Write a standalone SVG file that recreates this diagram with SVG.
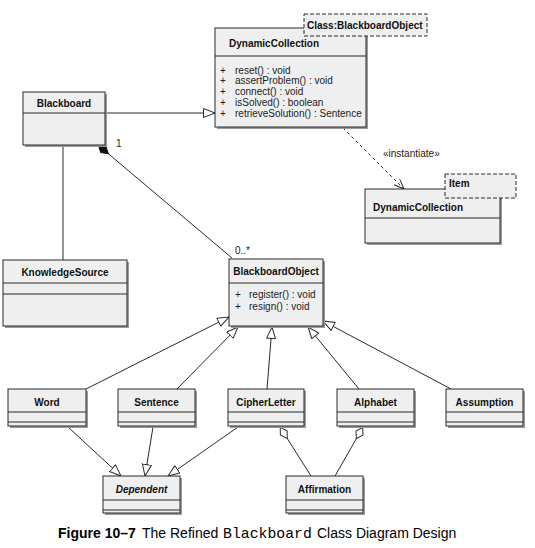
<svg xmlns="http://www.w3.org/2000/svg" width="535" height="548" viewBox="0 0 535 548">
<style>
.box{fill:#efefef;stroke:#2a2a2a;stroke-width:1}
.sh{fill:#9a9a9a;stroke:none}
.tpl{fill:#efefef;stroke:#2a2a2a;stroke-width:1;stroke-dasharray:4,2}
.dv{stroke:#2a2a2a;stroke-width:1}
.t{font-family:"Liberation Sans",Arial,sans-serif;font-size:10px;font-weight:bold;fill:#111}
.op{font-family:"Liberation Sans",Arial,sans-serif;font-size:10px;fill:#222}
.c{stroke:#2a2a2a;stroke-width:1;fill:none}
.cap{font-family:"Liberation Sans",Arial,sans-serif;font-size:14px;fill:#000}
</style>
<defs>
<marker id="gen" markerUnits="userSpaceOnUse" markerWidth="14" markerHeight="12" refX="12" refY="5" orient="auto"><path d="M0.5,0.5 L12,5 L0.5,9.5 z" fill="#fff" stroke="#2a2a2a"/></marker>
<marker id="open" markerUnits="userSpaceOnUse" markerWidth="12" markerHeight="10" refX="10" refY="4" orient="auto"><path d="M0,0 L10,4 L0,8" fill="none" stroke="#2a2a2a"/></marker>
<marker id="dia" markerUnits="userSpaceOnUse" markerWidth="16" markerHeight="10" refX="0" refY="5" orient="auto"><path d="M0.5,5 L7,1 L13.5,5 L7,9 z" fill="#fff" stroke="#2a2a2a"/></marker>
<marker id="dia-f" markerUnits="userSpaceOnUse" markerWidth="16" markerHeight="10" refX="0" refY="5" orient="auto"><path d="M0.5,5 L7,1 L13.5,5 L7,9 z" fill="#111" stroke="#111"/></marker>
</defs>

<g id="connectors">
<line class="c" x1="105" y1="113" x2="215" y2="113" marker-end="url(#gen)"/>
<line class="c" x1="63" y1="145" x2="63" y2="260"/>
<line class="c" x1="98" y1="145" x2="232" y2="258" marker-start="url(#dia-f)"/>
<line class="c" x1="343" y1="128" x2="404" y2="189" stroke-dasharray="3,3" marker-end="url(#open)"/>
<line class="c" x1="86" y1="389" x2="229" y2="317" marker-end="url(#gen)"/>
<line class="c" x1="177" y1="389" x2="238" y2="327" marker-end="url(#gen)"/>
<line class="c" x1="267" y1="389" x2="272" y2="327" marker-end="url(#gen)"/>
<line class="c" x1="359" y1="389" x2="308" y2="327" marker-end="url(#gen)"/>
<line class="c" x1="451" y1="389" x2="323" y2="321" marker-end="url(#gen)"/>
<line class="c" x1="68" y1="427" x2="121" y2="476" marker-end="url(#gen)"/>
<line class="c" x1="153" y1="427" x2="145" y2="476" marker-end="url(#gen)"/>
<line class="c" x1="238" y1="427" x2="168" y2="476" marker-end="url(#gen)"/>
<line class="c" x1="280" y1="427" x2="311" y2="476" marker-start="url(#dia)"/>
<line class="c" x1="363" y1="427" x2="335" y2="476" marker-start="url(#dia)"/>
<text class="op" x="116" y="147">1</text>
<text class="op" x="235" y="254">0..*</text>
<text class="op" x="383" y="157">«instantiate»</text>
</g>

<g id="dc1">
<rect class="sh" x="217" y="30" width="151" height="99"/>
<rect class="box" x="215" y="28" width="151" height="99"/>
<line class="dv" x1="215" y1="56" x2="366" y2="56"/>
<text class="t" x="229" y="47">DynamicCollection</text>
<text class="op" x="220" y="73.5">+</text><text class="op" x="235" y="73.5">reset() : void</text>
<text class="op" x="220" y="84.3">+</text><text class="op" x="235" y="84.3">assertProblem() : void</text>
<text class="op" x="220" y="95.1">+</text><text class="op" x="235" y="95.1">connect() : void</text>
<text class="op" x="220" y="105.9">+</text><text class="op" x="235" y="105.9">isSolved() : boolean</text>
<text class="op" x="220" y="116.7">+</text><text class="op" x="235" y="116.7">retrieveSolution() : Sentence</text>
<rect class="tpl" x="304" y="14" width="123" height="22"/>
<text class="t" x="307" y="29">Class:BlackboardObject</text>
</g>

<g id="blackboard">
<rect class="sh" x="25" y="94" width="82" height="53"/>
<rect class="box" x="23" y="92" width="82" height="53"/>
<line class="dv" x1="23" y1="113" x2="105" y2="113"/>
<text class="t" x="64" y="107" text-anchor="middle">Blackboard</text>
</g>

<g id="dc2">
<rect class="sh" x="367" y="191" width="135" height="54"/>
<rect class="box" x="365" y="189" width="135" height="54"/>
<line class="dv" x1="365" y1="218" x2="500" y2="218"/>
<text class="t" x="373" y="211">DynamicCollection</text>
<rect class="tpl" x="445" y="174" width="71" height="24"/>
<text class="t" x="449" y="187">Item</text>
</g>

<g id="knowledgesource">
<rect class="sh" x="5" y="262" width="124" height="66"/>
<rect class="box" x="3" y="260" width="124" height="66"/>
<line class="dv" x1="3" y1="283" x2="127" y2="283"/>
<line class="dv" x1="3" y1="294" x2="127" y2="294"/>
<text class="t" x="65" y="276" text-anchor="middle">KnowledgeSource</text>
</g>

<g id="blackboardobject">
<rect class="sh" x="231" y="261" width="94" height="67"/>
<rect class="box" x="229" y="259" width="94" height="67"/>
<line class="dv" x1="229" y1="283" x2="323" y2="283"/>
<text class="t" x="276" y="275" text-anchor="middle">BlackboardObject</text>
<text class="op" x="235" y="298">+</text><text class="op" x="249" y="298">register() : void</text>
<text class="op" x="235" y="310">+</text><text class="op" x="249" y="310">resign() : void</text>
</g>

<g id="word">
<rect class="sh" x="10" y="391" width="78" height="37"/>
<rect class="box" x="8" y="389" width="78" height="37"/>
<line class="dv" x1="8" y1="412" x2="86" y2="412"/>
<line class="dv" x1="8" y1="422" x2="86" y2="422"/>
<text class="t" x="47" y="406" text-anchor="middle">Word</text>
</g>

<g id="sentence">
<rect class="sh" x="120" y="391" width="77" height="37"/>
<rect class="box" x="118" y="389" width="77" height="37"/>
<line class="dv" x1="118" y1="412" x2="195" y2="412"/>
<line class="dv" x1="118" y1="422" x2="195" y2="422"/>
<text class="t" x="156.5" y="406" text-anchor="middle">Sentence</text>
</g>

<g id="cipherletter">
<rect class="sh" x="230" y="391" width="76" height="37"/>
<rect class="box" x="228" y="389" width="76" height="37"/>
<line class="dv" x1="228" y1="412" x2="304" y2="412"/>
<line class="dv" x1="228" y1="422" x2="304" y2="422"/>
<text class="t" x="266" y="406" text-anchor="middle">CipherLetter</text>
</g>

<g id="alphabet">
<rect class="sh" x="339" y="391" width="77" height="37"/>
<rect class="box" x="337" y="389" width="77" height="37"/>
<line class="dv" x1="337" y1="412" x2="414" y2="412"/>
<line class="dv" x1="337" y1="422" x2="414" y2="422"/>
<text class="t" x="375.5" y="406" text-anchor="middle">Alphabet</text>
</g>

<g id="assumption">
<rect class="sh" x="448" y="391" width="77" height="37"/>
<rect class="box" x="446" y="389" width="77" height="37"/>
<line class="dv" x1="446" y1="412" x2="523" y2="412"/>
<line class="dv" x1="446" y1="422" x2="523" y2="422"/>
<text class="t" x="484.5" y="406" text-anchor="middle">Assumption</text>
</g>

<g id="dependent">
<rect class="sh" x="105" y="478" width="77" height="37"/>
<rect class="box" x="103" y="476" width="77" height="37"/>
<line class="dv" x1="103" y1="500" x2="180" y2="500"/>
<line class="dv" x1="103" y1="510" x2="180" y2="510"/>
<text class="t" x="141.5" y="493" text-anchor="middle" font-style="italic">Dependent</text>
</g>

<g id="affirmation">
<rect class="sh" x="288" y="478" width="77" height="37"/>
<rect class="box" x="286" y="476" width="77" height="37"/>
<line class="dv" x1="286" y1="500" x2="363" y2="500"/>
<line class="dv" x1="286" y1="510" x2="363" y2="510"/>
<text class="t" x="324.5" y="493" text-anchor="middle">Affirmation</text>
</g>

<text class="cap" y="538"><tspan x="58" font-weight="bold">Figure 10–7</tspan><tspan x="142">The Refined</tspan><tspan x="223" font-family="'Liberation Mono','Courier New',monospace" font-size="14.8">Blackboard</tspan><tspan x="317">Class Diagram Design</tspan></text>
</svg>
